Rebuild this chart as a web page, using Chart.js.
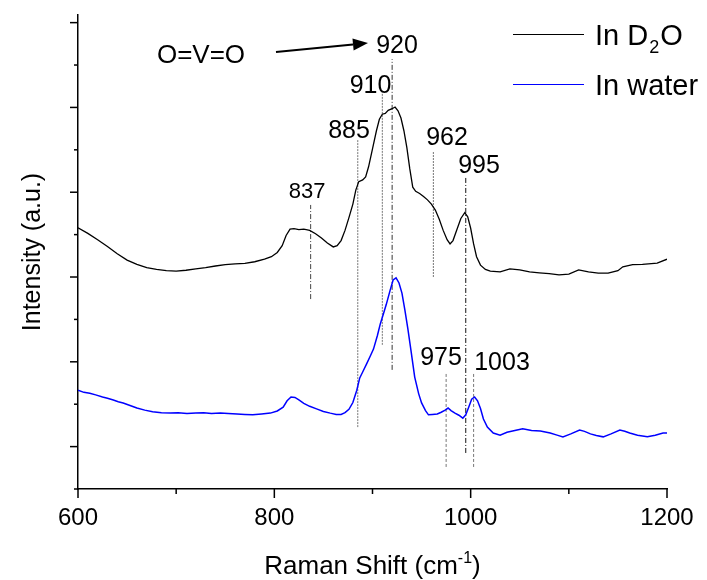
<!DOCTYPE html>
<html>
<head>
<meta charset="utf-8">
<script src="https://cdn.jsdelivr.net/npm/chart.js@4.4.1/dist/chart.umd.min.js"></script>
<style>
  html, body { margin: 0; padding: 0; background: #fff; }
  canvas { display: block; }
</style>
</head>
<body>
<canvas id="raman" width="707" height="580"></canvas>
<script>
// Raman spectra of the vanadyl sample, measured in D2O and in water
const d2oShift = [600, 610, 620, 630, 640, 650, 660, 670, 680, 690, 700, 710, 720, 730, 740, 750, 760, 770, 780, 790,
  797, 803, 808, 812, 816, 820, 825, 830, 836, 842, 848, 854, 860, 864, 868, 872, 876, 880, 883, 886,
  890, 893, 896, 900, 904, 907, 910, 913, 916, 920, 923, 926, 929, 932, 935, 938, 941, 944, 948, 952,
  956, 960, 964, 968, 972, 976, 979, 982, 986, 990, 994, 997, 1000, 1003, 1006, 1010, 1015, 1020, 1030, 1040,
  1050, 1060, 1070, 1080, 1090, 1100, 1110, 1120, 1130, 1140, 1150, 1155, 1165, 1175, 1190, 1200];
const d2oIntensity = [6.16, 6.03, 5.88, 5.72, 5.55, 5.40, 5.30, 5.22, 5.18, 5.15, 5.14, 5.16, 5.19, 5.22, 5.26, 5.29, 5.31, 5.32, 5.36, 5.42,
  5.48, 5.58, 5.74, 5.98, 6.13, 6.14, 6.12, 6.13, 6.10, 6.02, 5.92, 5.80, 5.71, 5.74, 5.86, 6.10, 6.40, 6.72, 7.05, 7.25,
  7.29, 7.36, 7.60, 8.02, 8.45, 8.72, 8.84, 8.86, 8.93, 8.97, 9.01, 8.92, 8.75, 8.45, 8.05, 7.55, 7.12, 7.02, 6.97, 6.90,
  6.82, 6.72, 6.58, 6.36, 6.10, 5.88, 5.78, 5.86, 6.12, 6.38, 6.52, 6.42, 6.15, 5.78, 5.48, 5.28, 5.18, 5.14, 5.12, 5.19,
  5.17, 5.12, 5.10, 5.08, 5.05, 5.07, 5.17, 5.12, 5.09, 5.09, 5.15, 5.24, 5.29, 5.30, 5.33, 5.42];

const waterShift = [600, 606, 612, 618, 625, 630, 636, 641, 646, 653, 660, 668, 676, 685, 694, 702, 711, 720, 728, 736,
  745, 753, 762, 770, 778, 787, 796, 803, 809, 813, 817, 821, 825, 830, 836, 843, 850, 857, 863, 868,
  872, 876, 880, 884, 887, 890, 894, 898, 901, 905, 908, 911, 914, 918, 921, 924, 927, 930, 933, 936,
  939, 943, 947, 950, 954, 957, 961, 966, 970, 974, 977, 980, 984, 988, 992, 995, 998, 1001, 1004, 1007,
  1010, 1013, 1017, 1023, 1030, 1037, 1045, 1053, 1062, 1071, 1081, 1088, 1094, 1102, 1111, 1116, 1122, 1128, 1135, 1143,
  1152, 1157, 1162, 1170, 1180, 1188, 1196, 1200];
const waterIntensity = [2.33, 2.28, 2.26, 2.22, 2.17, 2.14, 2.10, 2.06, 2.03, 1.97, 1.91, 1.86, 1.82, 1.80, 1.79, 1.80, 1.78, 1.79, 1.80, 1.78,
  1.79, 1.78, 1.77, 1.76, 1.75, 1.77, 1.79, 1.84, 1.93, 2.08, 2.17, 2.16, 2.10, 2.02, 1.95, 1.89, 1.83, 1.79, 1.76, 1.76,
  1.80, 1.88, 2.04, 2.33, 2.62, 2.76, 2.95, 3.15, 3.30, 3.62, 3.90, 4.12, 4.35, 4.69, 4.93, 4.98, 4.86, 4.62, 4.22, 3.78,
  3.30, 2.64, 2.25, 2.03, 1.85, 1.75, 1.76, 1.77, 1.81, 1.86, 1.91, 1.85, 1.79, 1.74, 1.67, 1.75, 1.93, 2.12, 2.17, 2.08,
  1.90, 1.65, 1.46, 1.32, 1.27, 1.34, 1.38, 1.42, 1.38, 1.37, 1.32, 1.27, 1.23, 1.30, 1.39, 1.36, 1.30, 1.26, 1.23, 1.30,
  1.39, 1.36, 1.32, 1.27, 1.23, 1.27, 1.32, 1.32];

// Assigned band positions (cm-1) and the vertical span of each guide line
const peakShift = [837, 885, 910, 920, 962, 995, 975, 1003];
const peakLabels = ['837', '885', '910', '920', '962', '995', '975', '1003'];
const guideTop = [6.70, 8.23, 9.34, 10.14, 7.95, 7.36, 2.74, 2.74];
const guideBottom = [4.48, 1.46, 3.40, 2.81, 5.00, 0.85, 0.52, 0.52];

// Axis ticks
const xTickValues = [600, 700, 800, 900, 1000, 1100, 1200];
const xTickLabels = ['600', '', '800', '', '1000', '', '1200'];
const yTickValues = [0, 1, 2, 3, 4, 5, 6, 7, 8, 9, 10, 11];

const FONT = "'Liberation Sans', Arial, Helvetica, sans-serif";

// Guide line styles and label placement (data units)
const guideStyle = [
  { color: '#444', dash: [5, 2, 1, 2] },
  { color: '#777', dash: [2, 1] },
  { color: '#777', dash: [2, 1] },
  { color: '#333', dash: [5, 2, 1, 2] },
  { color: '#777', dash: [2, 1] },
  { color: '#111', dash: [5, 2, 1, 2] },
  { color: '#777', dash: [3, 2] },
  { color: '#777', dash: [3, 2] }
];
const labelAnchor = [
  { x: 833.3, y: 7.05, size: 22 },
  { x: 876.1, y: 8.49, size: 25 },
  { x: 898.0, y: 9.56, size: 25 },
  { x: 925.0, y: 10.50, size: 25 },
  { x: 975.9, y: 8.33, size: 25 },
  { x: 1008.5, y: 7.67, size: 25 },
  { x: 969.8, y: 3.13, size: 25 },
  { x: 1031.9, y: 3.01, size: 25 }
];

const toPoints = (xs, ys) => xs.map((x, i) => ({ x: x, y: ys[i] }));

const datasets = [
  { label: 'In D2O', data: toPoints(d2oShift, d2oIntensity), borderColor: '#000000', borderWidth: 1.3 },
  { label: 'In water', data: toPoints(waterShift, waterIntensity), borderColor: '#0000ff', borderWidth: 1.5 }
].concat(peakShift.map((s, i) => ({
  label: 'guide ' + peakLabels[i],
  data: [{ x: s, y: guideBottom[i] }, { x: s, y: guideTop[i] }],
  borderColor: guideStyle[i].color,
  borderWidth: 1,
  borderDash: guideStyle[i].dash
})));

function line(ctx, x1, y1, x2, y2) {
  ctx.beginPath();
  ctx.moveTo(x1, y1);
  ctx.lineTo(x2, y2);
  ctx.stroke();
}

// Tick marks, band labels, arrow, legend and the x-axis title
const decorations = {
  id: 'decorations',
  afterDraw(chart) {
    const { ctx, chartArea } = chart;
    const xs = chart.scales.x, ys = chart.scales.y;
    ctx.save();
    ctx.strokeStyle = '#000';
    ctx.lineWidth = 1.5;
    xTickValues.forEach((v, i) => {
      const px = xs.getPixelForValue(v);
      const len = xTickLabels[i] ? 9 : 5;
      line(ctx, px, chartArea.bottom, px, chartArea.bottom + len);
    });
    yTickValues.forEach(v => {
      const py = ys.getPixelForValue(v);
      const len = v % 2 === 1 ? 8 : 4;
      line(ctx, chartArea.left - len, py, chartArea.left, py);
    });

    // band labels
    ctx.fillStyle = '#000';
    ctx.textAlign = 'center';
    ctx.textBaseline = 'alphabetic';
    peakLabels.forEach((t, i) => {
      const a = labelAnchor[i];
      ctx.font = a.size + 'px ' + FONT;
      ctx.fillText(t, xs.getPixelForValue(a.x), ys.getPixelForValue(a.y) + 0.358 * a.size);
    });

    // O=V=O with arrow pointing to the 920 band
    ctx.font = '26px ' + FONT;
    ctx.fillText('O=V=O', xs.getPixelForValue(725.3), ys.getPixelForValue(10.26) + 0.358 * 26);
    const ax1 = xs.getPixelForValue(801.7), ay1 = ys.getPixelForValue(10.31);
    const ax2 = xs.getPixelForValue(895.4), ay2 = ys.getPixelForValue(10.52);
    const ang = Math.atan2(ay2 - ay1, ax2 - ax1);
    const head = 15, half = 6;
    const bx = ax2 - head * Math.cos(ang), by = ay2 - head * Math.sin(ang);
    ctx.lineWidth = 2;
    line(ctx, ax1, ay1, bx, by);
    ctx.beginPath();
    ctx.moveTo(ax2, ay2);
    ctx.lineTo(bx + half * Math.sin(ang), by - half * Math.cos(ang));
    ctx.lineTo(bx - half * Math.sin(ang), by + half * Math.cos(ang));
    ctx.closePath();
    ctx.fill();

    // legend
    ctx.lineWidth = 1;
    ctx.strokeStyle = '#000000';
    line(ctx, 513, 34.5, 584, 34.5);
    ctx.strokeStyle = '#0000ff';
    line(ctx, 513, 84.5, 584, 84.5);
    ctx.textAlign = 'left';
    ctx.font = '29px ' + FONT;
    let tx = 595;
    ctx.fillText('In D', tx, 45);
    tx += ctx.measureText('In D').width;
    ctx.font = '18px ' + FONT;
    ctx.fillText('2', tx + 1, 53);
    tx += ctx.measureText('2').width + 2;
    ctx.font = '29px ' + FONT;
    ctx.fillText('O', tx, 45);
    ctx.fillText('In water', 595, 95);

    // x-axis title with superscript
    const mainFont = '26px ' + FONT, supFont = '16px ' + FONT;
    const parts = [['Raman Shift (cm', mainFont, 0], ['-1', supFont, -11], [')', mainFont, 0]];
    let total = 0;
    parts.forEach(p => { ctx.font = p[1]; total += ctx.measureText(p[0]).width; });
    let cx = (chartArea.left + chartArea.right) / 2 - total / 2;
    parts.forEach(p => {
      ctx.font = p[1];
      ctx.fillText(p[0], cx, 574 + p[2]);
      cx += ctx.measureText(p[0]).width;
    });
    ctx.restore();
  }
};

new Chart(document.getElementById('raman'), {
  type: 'line',
  data: { datasets: datasets },
  options: {
    responsive: false,
    animation: false,
    devicePixelRatio: 1,
    parsing: true,
    layout: { padding: { top: 15, right: 40, left: 0, bottom: 0 } },
    elements: { point: { radius: 0 }, line: { tension: 0, fill: false } },
    plugins: { legend: { display: false }, tooltip: { enabled: false }, title: { display: false } },
    scales: {
      x: {
        type: 'linear',
        min: 600,
        max: 1200,
        afterBuildTicks: scale => { scale.ticks = xTickValues.map(v => ({ value: v })); },
        ticks: {
          autoSkip: false,
          maxRotation: 0,
          padding: 6,
          color: '#000',
          font: { family: FONT, size: 24 },
          callback: (v) => xTickLabels[xTickValues.indexOf(v)] || ''
        },
        grid: { display: true, drawOnChartArea: false, drawTicks: true, tickLength: 9, color: 'rgba(0,0,0,0)' },
        border: { display: true, color: '#000', width: 1.5 },
        afterFit: scale => { scale.height = 91; }
      },
      y: {
        type: 'linear',
        min: 0,
        max: 11.18,
        afterBuildTicks: scale => { scale.ticks = yTickValues.map(v => ({ value: v })); },
        ticks: { display: false },
        grid: { display: true, drawOnChartArea: false, drawTicks: true, tickLength: 8, color: 'rgba(0,0,0,0)' },
        border: { display: true, color: '#000', width: 1.5 },
        title: {
          display: true,
          text: 'Intensity (a.u.)',
          color: '#000',
          font: { family: FONT, size: 25 },
          padding: { top: 18, bottom: 0 }
        },
        afterFit: scale => { scale.width = 78; }
      }
    }
  },
  plugins: [decorations]
});
</script>
</body>
</html>
